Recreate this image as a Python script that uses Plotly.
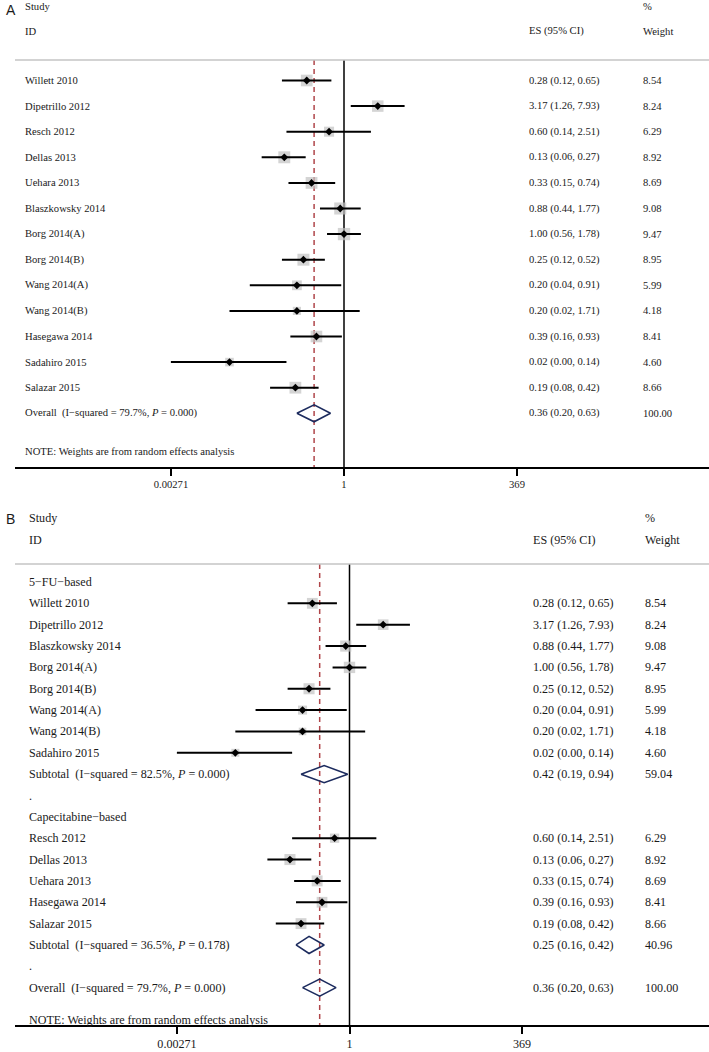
import math
import plotly.graph_objects as go

# ---------------- data ----------------
studies_A = ["Willett 2010", "Dipetrillo 2012", "Resch 2012", "Dellas 2013", "Uehara 2013",
             "Blaszkowsky 2014", "Borg 2014(A)", "Borg 2014(B)", "Wang 2014(A)", "Wang 2014(B)",
             "Hasegawa 2014", "Sadahiro 2015", "Salazar 2015"]
es_A = [0.28, 3.17, 0.60, 0.13, 0.33, 0.88, 1.00, 0.25, 0.20, 0.20, 0.39, 0.02, 0.19]
lo_A = [0.12, 1.26, 0.14, 0.06, 0.15, 0.44, 0.56, 0.12, 0.04, 0.02, 0.16, 0.0027, 0.08]
hi_A = [0.65, 7.93, 2.51, 0.27, 0.74, 1.77, 1.78, 0.52, 0.91, 1.71, 0.93, 0.14, 0.42]
wt_A = [8.54, 8.24, 6.29, 8.92, 8.69, 9.08, 9.47, 8.95, 5.99, 4.18, 8.41, 4.60, 8.66]

overall_es, overall_lo, overall_hi, overall_wt = 0.36, 0.20, 0.63, 100.00
overall_i2, overall_p = "79.7%", "0.000"

group_names = ["5\u2212FU\u2212based", "Capecitabine\u2212based"]
group_members = [
    ["Willett 2010", "Dipetrillo 2012", "Blaszkowsky 2014", "Borg 2014(A)", "Borg 2014(B)",
     "Wang 2014(A)", "Wang 2014(B)", "Sadahiro 2015"],
    ["Resch 2012", "Dellas 2013", "Uehara 2013", "Hasegawa 2014", "Salazar 2015"],
]
sub_es = [0.42, 0.25]
sub_lo = [0.19, 0.16]
sub_hi = [0.94, 0.42]
sub_wt = [59.04, 40.96]
sub_i2 = ["82.5%", "36.5%"]
sub_p = ["0.000", "0.178"]

null_value = 1
tick_vals = [0.00271, 1, 369]
tick_text = ["0.00271", "1", "369"]

# ---------------- layout constants ----------------
W, H = 709, 1052
SERIF = "Liberation Serif"
TXT = "#1a1a1a"
SQ = "#c2c2c2"
RED = "#b0464a"
NAVY = "#1c2b5e"

panels = {
    "A": dict(px_lo=171, px_hi=517, row0=80.5, step=25.6, top=0, axis_px=467,
              x_lab=23, x_es=527, x_wt=641, fs=10.6, hdr1=6, hdr2=31, sep=60,
              note_off=1.5, sq=4.0, dh=0.33, letter_y=10),
    "B": dict(px_lo=177, px_hi=522, row0=582, step=21.35, top=500, axis_px=1025,
              x_lab=27, x_es=531, x_wt=643, fs=12.1, hdr1=518, hdr2=540, sep=564,
              note_off=1.5, sq=3.7, dh=0.40, letter_y=519),
}

fig = go.Figure()
annotations = []
shapes = []


def fmt_es(e, l, h):
    return f"{e:.2f} ({l:.2f}, {h:.2f})"


def add_text(text, xpx, y, yref, fs, color=TXT, font=SERIF):
    annotations.append(dict(text=text, x=xpx / W, xref="paper", y=y, yref=yref,
                            xanchor="left", yanchor="middle", showarrow=False,
                            font=dict(family=font, size=fs, color=color)))


def build_panel(key, rows, xa, ya):
    p = panels[key]
    fs = p["fs"]
    yref = ya.replace("axis", "")
    xname = xa.replace("axis", "")

    def yv(px):
        return (px - p["row0"]) / p["step"]

    lx0, lx1 = math.log10(tick_vals[0]), math.log10(tick_vals[-1])
    dpp = (lx1 - lx0) / (p["px_hi"] - p["px_lo"])
    x0px = 15
    xr = [lx0 - (p["px_lo"] - x0px) * dpp, lx0 + (W - p["px_lo"]) * dpp]
    fig.update_layout(**{
        xa: dict(type="log", range=xr, domain=[x0px / W, 1], anchor=yref,
                 showgrid=False, zeroline=False, showline=True, linecolor="black",
                 linewidth=1.5, ticks="outside", ticklen=7, tickwidth=1.5, tickcolor="black",
                 tickvals=tick_vals, ticktext=tick_text,
                 tickfont=dict(family=SERIF, size=fs, color=TXT)),
        ya: dict(range=[yv(p["axis_px"]), yv(p["top"])],
                 domain=[1 - p["axis_px"] / H, 1 - p["top"] / H],
                 anchor=xname, visible=False, showgrid=False, zeroline=False),
    })

    # headers
    annotations.append(dict(text=key, x=4 / W, xref="paper", y=yv(p["letter_y"]), yref=yref,
                            xanchor="left", yanchor="middle", showarrow=False,
                            font=dict(family="Liberation Sans", size=14, color=TXT)))
    add_text("Study", p["x_lab"], yv(p["hdr1"]), yref, fs)
    add_text("ID", p["x_lab"], yv(p["hdr2"]), yref, fs)
    add_text("%", p["x_wt"], yv(p["hdr1"]), yref, fs)
    add_text("ES (95% CI)", p["x_es"], yv(p["hdr2"]), yref, fs)
    add_text("Weight", p["x_wt"], yv(p["hdr2"]), yref, fs)
    shapes.append(dict(type="line", xref="paper", x0=x0px / W, x1=1, yref=yref,
                       y0=yv(p["sep"]), y1=yv(p["sep"]), line=dict(color="#c4c4c4", width=1.5)))

    ci_x, ci_y, sq_x, sq_y, sq_s = [], [], [], [], []
    dia_x, dia_y = [], []
    for i, r in enumerate(rows):
        kind = r["kind"]
        if kind == "label":
            add_text(r["text"], p["x_lab"], i, yref, fs)
        elif kind == "study":
            add_text(r["text"], p["x_lab"], i, yref, fs)
            add_text(fmt_es(r["es"], r["lo"], r["hi"]), p["x_es"], i, yref, fs)
            add_text(f"{r['wt']:.2f}", p["x_wt"], i, yref, fs)
            ci_x += [r["lo"], r["hi"], None]
            ci_y += [i, i, None]
            sq_x.append(r["es"]); sq_y.append(i); sq_s.append(p["sq"] * math.sqrt(r["wt"]))
        elif kind == "pooled":
            add_text(r["text"], p["x_lab"], i, yref, fs)
            add_text(fmt_es(r["es"], r["lo"], r["hi"]), p["x_es"], i, yref, fs)
            add_text(f"{r['wt']:.2f}", p["x_wt"], i, yref, fs)
            dh = p["dh"]
            dia_x += [r["lo"], r["es"], r["hi"], r["es"], r["lo"], None]
            dia_y += [i, i - dh, i, i + dh, i, None]
    n = len(rows)
    add_text("NOTE: Weights are from random effects analysis", p["x_lab"],
             n - 1 + p["note_off"], yref, fs)

    ytop, ybot = yv(p["sep"]), yv(p["axis_px"])
    fig.add_trace(go.Scatter(x=[null_value, null_value], y=[ytop, ybot], mode="lines",
                             line=dict(color="black", width=1.5), xaxis=xname, yaxis=yref,
                             hoverinfo="skip", showlegend=False))
    fig.add_trace(go.Scatter(x=[overall_es, overall_es], y=[ytop, ybot], mode="lines",
                             line=dict(color=RED, width=1.5, dash="5px,4px"), xaxis=xname,
                             yaxis=yref, hoverinfo="skip", showlegend=False))
    fig.add_trace(go.Scatter(x=sq_x, y=sq_y, mode="markers",
                             marker=dict(symbol="square", size=sq_s, color=SQ, line=dict(width=0)),
                             xaxis=xname, yaxis=yref, hoverinfo="skip", showlegend=False))
    fig.add_trace(go.Scatter(x=ci_x, y=ci_y, mode="lines", line=dict(color="black", width=2),
                             xaxis=xname, yaxis=yref, hoverinfo="skip", showlegend=False))
    fig.add_trace(go.Scatter(x=sq_x, y=sq_y, mode="markers",
                             marker=dict(symbol="diamond", size=6, color="black", line=dict(width=0)),
                             xaxis=xname, yaxis=yref, hoverinfo="skip", showlegend=False))
    fig.add_trace(go.Scatter(x=dia_x, y=dia_y, mode="lines", line=dict(color=NAVY, width=1.6),
                             xaxis=xname, yaxis=yref, hoverinfo="skip", showlegend=False))


def stat_text(prefix, i2, pval):
    return f"{prefix}\u00a0 (I\u2212squared = {i2}, <i>P</i> = {pval})"


idx = {s: k for k, s in enumerate(studies_A)}

rows_A = [dict(kind="study", text=s, es=es_A[k], lo=lo_A[k], hi=hi_A[k], wt=wt_A[k])
          for k, s in enumerate(studies_A)]
rows_A.append(dict(kind="pooled", text=stat_text("Overall", overall_i2, overall_p),
                   es=overall_es, lo=overall_lo, hi=overall_hi, wt=overall_wt))

rows_B = []
for g, name in enumerate(group_names):
    rows_B.append(dict(kind="label", text=name))
    for s in group_members[g]:
        k = idx[s]
        rows_B.append(dict(kind="study", text=s, es=es_A[k], lo=lo_A[k], hi=hi_A[k], wt=wt_A[k]))
    rows_B.append(dict(kind="pooled", text=stat_text("Subtotal", sub_i2[g], sub_p[g]),
                       es=sub_es[g], lo=sub_lo[g], hi=sub_hi[g], wt=sub_wt[g]))
    rows_B.append(dict(kind="label", text="."))
rows_B.append(dict(kind="pooled", text=stat_text("Overall", overall_i2, overall_p),
                   es=overall_es, lo=overall_lo, hi=overall_hi, wt=overall_wt))

build_panel("A", rows_A, "xaxis", "yaxis")
build_panel("B", rows_B, "xaxis2", "yaxis2")

fig.update_layout(width=W, height=H, margin=dict(l=0, r=0, t=0, b=0),
                  paper_bgcolor="white", plot_bgcolor="white", showlegend=False,
                  annotations=annotations, shapes=shapes)

fig.write_html("out.html", config={"displayModeBar": False},
               post_script="document.body.style.margin='0px';document.body.style.overflow='hidden';")
